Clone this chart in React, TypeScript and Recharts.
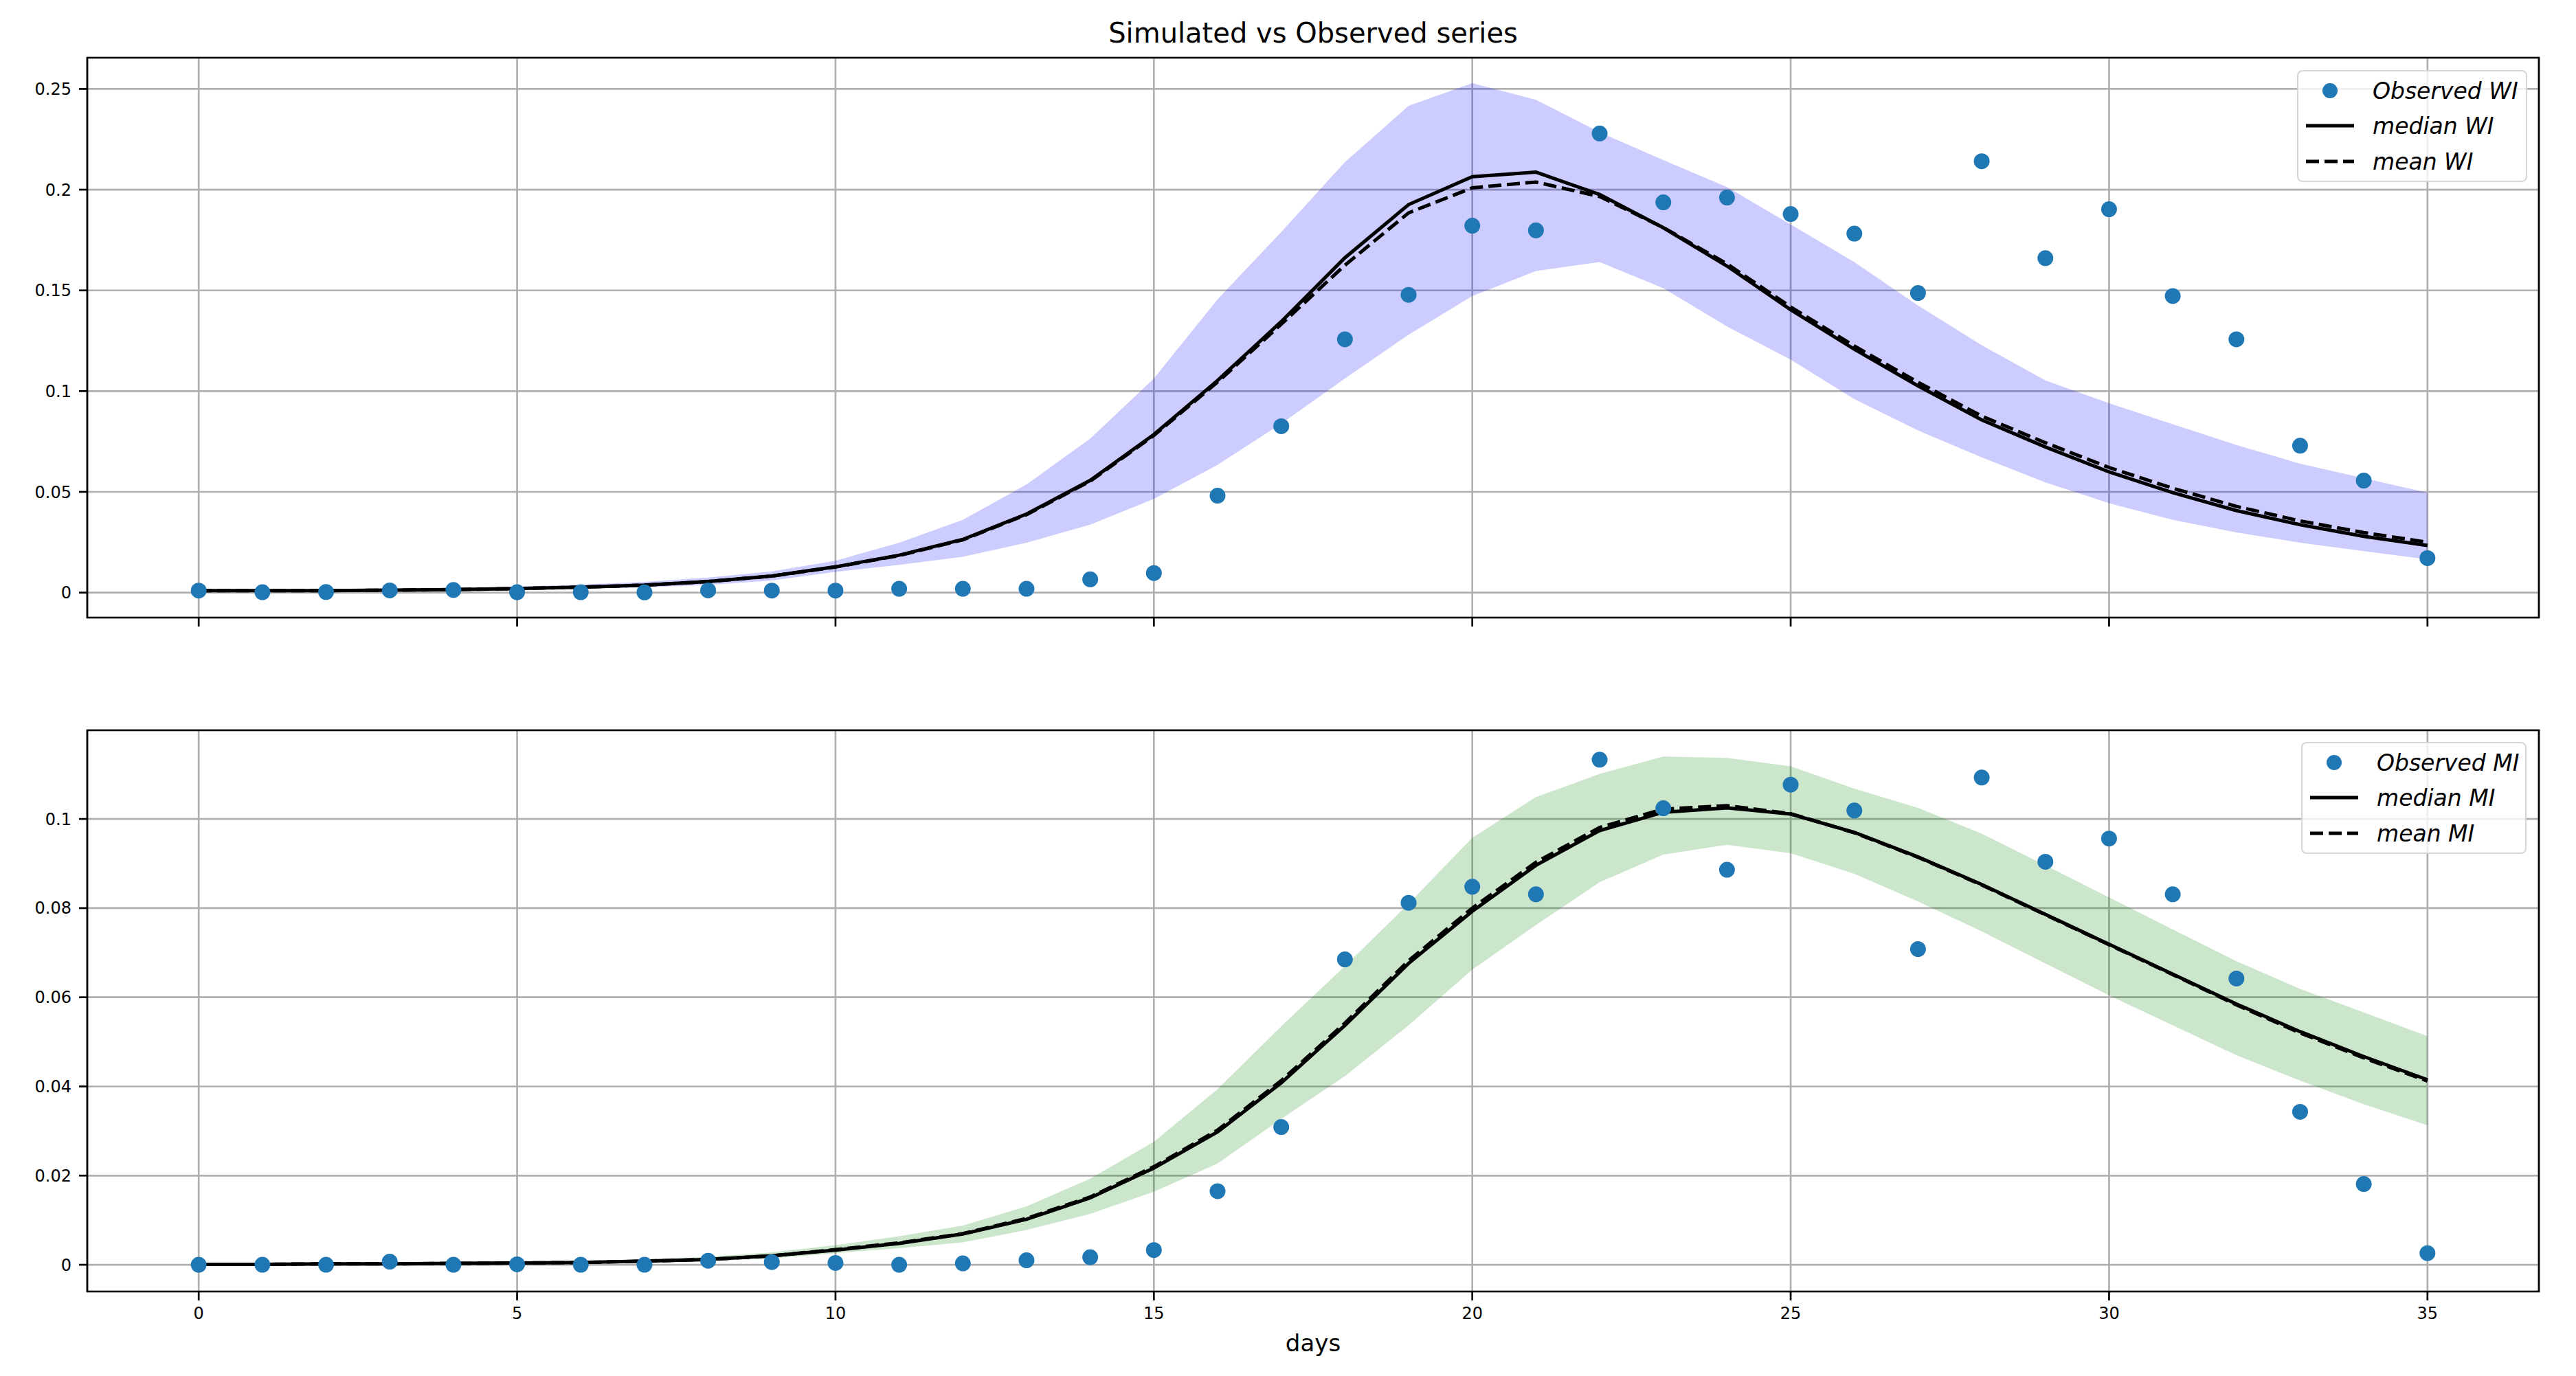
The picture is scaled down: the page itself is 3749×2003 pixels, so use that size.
import React from "react";
import {
  Area,
  CartesianGrid,
  ComposedChart,
  Legend,
  Line,
  ReferenceArea,
  Scatter,
  XAxis,
  YAxis,
} from "recharts";

const FONT = "DejaVu Sans";

const days = [
  0, 1, 2, 3, 4, 5, 6, 7, 8, 9, 10, 11, 12, 13, 14, 15, 16, 17, 18, 19, 20, 21, 22, 23, 24, 25, 26, 27, 28, 29,
  30, 31, 32, 33, 34, 35,
];
const dayTicks = [0, 5, 10, 15, 20, 25, 30, 35];

// WI panel
const obsWI = [
  0.001, 0.0002, 0.0003, 0.0011, 0.0013, 0.0002, 0.0002, 0.0001, 0.0011, 0.001, 0.001, 0.0019, 0.0019, 0.0019,
  0.0066, 0.0097, 0.0481, 0.0826, 0.1257, 0.1478, 0.1821, 0.1798, 0.2279, 0.1937, 0.1961, 0.1879, 0.1782, 0.1487,
  0.2141, 0.166, 0.1903, 0.1472, 0.1257, 0.0729, 0.0556, 0.0171,
];
const medWI = [
  0.001, 0.001, 0.001, 0.0012, 0.0015, 0.002, 0.0027, 0.0037, 0.0055, 0.0082, 0.0128, 0.0186, 0.0264, 0.039,
  0.0557, 0.0785, 0.1053, 0.1345, 0.1662, 0.1926, 0.2064, 0.2087, 0.1976, 0.1811, 0.1621, 0.1404, 0.1208, 0.1026,
  0.0857, 0.0723, 0.0599, 0.0496, 0.0407, 0.0337, 0.0279, 0.0234,
];
const meanWI = [
  0.001, 0.001, 0.001, 0.0012, 0.0015, 0.002, 0.0027, 0.0037, 0.0055, 0.0082, 0.0127, 0.0184, 0.0262, 0.0387,
  0.0553, 0.078, 0.1045, 0.1332, 0.1625, 0.1885, 0.2009, 0.2038, 0.1966, 0.1812, 0.1632, 0.1418, 0.1224, 0.1044,
  0.0876, 0.0744, 0.0621, 0.0518, 0.0428, 0.0356, 0.0298, 0.025,
];
const hiWI = [
  0.0012, 0.0013, 0.0015, 0.0018, 0.0022, 0.003, 0.004, 0.0053, 0.0075, 0.0105, 0.0158, 0.0248, 0.0361, 0.0537,
  0.0764, 0.1063, 0.1456, 0.179, 0.2137, 0.2416, 0.2529, 0.2446, 0.2285, 0.2147, 0.2013, 0.1827, 0.1641, 0.1425,
  0.1228, 0.1053, 0.094, 0.0836, 0.0733, 0.064, 0.0568, 0.0496,
];
const loWI = [
  0.0008, 0.0008, 0.0008, 0.0009, 0.0011, 0.0014, 0.0019, 0.0026, 0.0038, 0.006, 0.0103, 0.0138, 0.0178, 0.0248,
  0.0337, 0.0465, 0.0634, 0.0838, 0.1063, 0.128, 0.1472, 0.1596, 0.1641, 0.1511, 0.1321, 0.1156, 0.096, 0.0805,
  0.0671, 0.0547, 0.0444, 0.0361, 0.0299, 0.0248, 0.0206, 0.0165,
];
const wiTicks = [0, 0.05, 0.1, 0.15, 0.2, 0.25];
const wiLabels = ["Observed WI", "median WI", "mean WI"];

// MI panel
const obsMI = [
  0, 0, 0, 0.0007, 0, 0.0001, 0, 0, 0.0009, 0.0006, 0.0004, 0, 0.0003, 0.001, 0.0017, 0.0033, 0.0165, 0.0309,
  0.0685, 0.0812, 0.0848, 0.0831, 0.1133, 0.1024, 0.0886, 0.1077, 0.1019, 0.0708, 0.1093, 0.0904, 0.0956, 0.0831,
  0.0642, 0.0343, 0.0181, 0.0026,
];
const medMI = [
  0.0001, 0.0001, 0.0002, 0.0002, 0.0003, 0.0004, 0.0005, 0.0008, 0.0012, 0.002, 0.0033, 0.0048, 0.0069, 0.0102,
  0.015, 0.0217, 0.0298, 0.0408, 0.0537, 0.0676, 0.0793, 0.0896, 0.0974, 0.1015, 0.1025, 0.1011, 0.097, 0.0915,
  0.0853, 0.0786, 0.0719, 0.0652, 0.0585, 0.0523, 0.0467, 0.0415,
];
const meanMI = [
  0.0001, 0.0001, 0.0002, 0.0002, 0.0003, 0.0004, 0.0005, 0.0008, 0.0012, 0.002, 0.0034, 0.0049, 0.007, 0.0104,
  0.0152, 0.022, 0.0302, 0.0413, 0.0542, 0.0682, 0.08, 0.0903, 0.0981, 0.1022, 0.103, 0.1012, 0.0969, 0.0914,
  0.0852, 0.0785, 0.0718, 0.0651, 0.0583, 0.052, 0.0464, 0.0412,
];
const hiMI = [
  0.0002, 0.0002, 0.0003, 0.0003, 0.0004, 0.0006, 0.0008, 0.0012, 0.0018, 0.0028, 0.0044, 0.0064, 0.0088, 0.0131,
  0.0193, 0.0276, 0.0394, 0.0535, 0.067, 0.081, 0.0958, 0.1049, 0.1101, 0.114, 0.1137, 0.1118, 0.1068, 0.1025,
  0.0967, 0.0896, 0.0824, 0.0752, 0.0681, 0.0619, 0.0566, 0.0513,
];
const loMI = [
  0, 0, 0.0001, 0.0001, 0.0002, 0.0003, 0.0003, 0.0005, 0.0008, 0.0014, 0.0026, 0.0037, 0.005, 0.0078, 0.0114,
  0.0164, 0.0227, 0.0327, 0.0423, 0.0537, 0.0662, 0.0762, 0.0858, 0.092, 0.0942, 0.0923, 0.0877, 0.0815, 0.0748,
  0.0676, 0.0604, 0.0537, 0.047, 0.0413, 0.036, 0.0313,
];
const miTicks = [0, 0.02, 0.04, 0.06, 0.08, 0.1];
const miLabels = ["Observed MI", "median MI", "mean MI"];

const xDomain = [-1.75, 36.75];

function buildRows(obs: number[], med: number[], mean: number[], lo: number[], hi: number[]) {
  return days.map((day, i) => ({ day, obs: obs[i], median: med[i], mean: mean[i], band: [lo[i], hi[i]] }));
}

const wiRows = buildRows(obsWI, medWI, meanWI, loWI, hiWI);
const miRows = buildRows(obsMI, medMI, meanMI, loMI, hiMI);

function LegendBox({ labels, width }: { labels: string[]; width: number }) {
  const rows = [28, 79, 131];
  return (
    <div
      style={{
        position: "relative",
        boxSizing: "border-box",
        width,
        height: 163,
        border: "2px solid rgba(204,204,204,0.8)",
        borderRadius: 8,
        background: "rgba(255,255,255,0.8)",
        fontFamily: FONT,
        fontStyle: "italic",
        fontSize: 33,
        color: "#000",
      }}
    >
      {labels.map((label, i) => (
        <div
          key={label}
          style={{ position: "absolute", left: 0, top: rows[i] - 22, height: 44, display: "flex", alignItems: "center" }}
        >
          <svg width={84} height={44} style={{ marginLeft: 9 }}>
            {i === 0 && <circle cx={37} cy={22} r={11} fill="#1f77b4" />}
            {i === 1 && <line x1={2} x2={72} y1={22} y2={22} stroke="#000" strokeWidth={5} />}
            {i === 2 && <line x1={2} x2={72} y1={22} y2={22} stroke="#000" strokeWidth={5} strokeDasharray="19 8" />}
          </svg>
          <span style={{ marginLeft: 15, whiteSpace: "nowrap" }}>{label}</span>
        </div>
      ))}
    </div>
  );
}

type PanelProps = {
  rows: typeof wiRows;
  yDomain: number[];
  yTicks: number[];
  bandColor: string;
  labels: string[];
  height: number;
  top: number;
  bottom: number;
  xAxisHeight: number;
  showXLabels: boolean;
  legendLeft: number;
  legendTop: number;
  legendWidth: number;
};

function Panel(p: PanelProps) {
  const tickStyle = { fill: "#000", fontSize: 24, fontFamily: FONT };
  return (
    <ComposedChart
      width={3749}
      height={p.height}
      data={p.rows}
      margin={{ top: p.top, right: 54, bottom: p.bottom, left: 0 }}
    >
      <XAxis
        dataKey="day"
        type="number"
        domain={xDomain}
        ticks={dayTicks}
        allowDataOverflow
        height={p.xAxisHeight}
        tick={tickStyle}
        tickFormatter={(v: number) => (p.showXLabels ? String(v) : "")}
        tickSize={13}
        tickMargin={10}
        tickLine={{ stroke: "#000", strokeWidth: 2.7 }}
        axisLine={false}
        label={
          p.showXLabels
            ? { value: "days", position: "insideBottom", offset: 3, fill: "#000", fontSize: 34, fontFamily: FONT }
            : undefined
        }
      />
      <YAxis
        type="number"
        domain={p.yDomain}
        ticks={p.yTicks}
        allowDataOverflow
        width={127}
        tick={tickStyle}
        tickSize={12}
        tickMargin={11}
        tickFormatter={(v: number) => String(v)}
        tickLine={{ stroke: "#000", strokeWidth: 2.7 }}
        axisLine={false}
      />
      <Area
        dataKey="band"
        type="linear"
        stroke="none"
        fill={p.bandColor}
        fillOpacity={0.2}
        dot={false}
        activeDot={false}
        legendType="none"
        isAnimationActive={false}
      />
      <CartesianGrid stroke="#b0b0b0" strokeWidth={2.7} />
      <Scatter
        dataKey="obs"
        legendType="none"
        isAnimationActive={false}
        shape={(s: any) => <circle cx={s.cx} cy={s.cy} r={11.5} fill="#1f77b4" />}
      />
      <Line
        dataKey="median"
        type="linear"
        stroke="#000"
        strokeWidth={5}
        dot={false}
        activeDot={false}
        isAnimationActive={false}
      />
      <Line
        dataKey="mean"
        type="linear"
        stroke="#000"
        strokeWidth={5}
        strokeDasharray="19 8"
        dot={false}
        activeDot={false}
        isAnimationActive={false}
      />
      <ReferenceArea
        x1={xDomain[0]}
        x2={xDomain[1]}
        y1={p.yDomain[0]}
        y2={p.yDomain[1]}
        fill="none"
        stroke="#000"
        strokeWidth={2.7}
        ifOverflow="visible"
      />
      <Legend
        layout="vertical"
        align="center"
        verticalAlign="middle"
        wrapperStyle={{ left: p.legendLeft, top: p.legendTop, width: p.legendWidth, height: 163 }}
        content={() => <LegendBox labels={p.labels} width={p.legendWidth} />}
      />
    </ComposedChart>
  );
}

export default function App() {
  return (
    <div
      style={{
        position: "absolute",
        left: 0,
        top: 0,
        width: 3749,
        height: 2003,
        overflow: "hidden",
        background: "#fff",
      }}
    >
      <div
        style={{
          position: "absolute",
          left: 127,
          width: 3568,
          top: 28,
          height: 40,
          lineHeight: "40px",
          textAlign: "center",
          fontFamily: FONT,
          fontSize: 40,
          color: "#000",
          whiteSpace: "nowrap",
        }}
      >
        Simulated vs Observed series
      </div>
      <div style={{ position: "absolute", left: 0, top: 0 }}>
        <Panel
          rows={wiRows}
          yDomain={[-0.0124, 0.2655]}
          yTicks={wiTicks}
          bandColor="#0000ff"
          labels={wiLabels}
          height={960}
          top={84}
          bottom={21}
          xAxisHeight={40}
          showXLabels={false}
          legendLeft={3343}
          legendTop={102}
          legendWidth={335}
        />
      </div>
      <div style={{ position: "absolute", left: 0, top: 960 }}>
        <Panel
          rows={miRows}
          yDomain={[-0.006, 0.1199]}
          yTicks={miTicks}
          bandColor="#008000"
          labels={miLabels}
          height={1043}
          top={103}
          bottom={33}
          xAxisHeight={90}
          showXLabels
          legendLeft={3349}
          legendTop={120}
          legendWidth={328}
        />
      </div>
    </div>
  );
}
